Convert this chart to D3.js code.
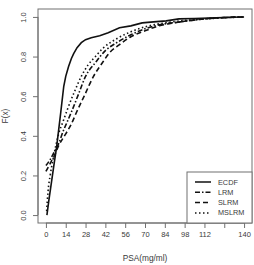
<!DOCTYPE html>
<html>
<head>
<meta charset="utf-8">
<script src="https://cdn.jsdelivr.net/npm/d3@7"></script>
<style>
  body { margin: 0; background: #fff; }
  svg { display: block; font-family: 'Liberation Sans', Arial, sans-serif; }
</style>
</head>
<body>
<svg width="254" height="265"></svg>
<script>
// PSA values (x) and fitted / empirical CDF values (F(x))
const ecdfX = [0.7, 2, 4, 6, 7.5, 9, 10.5, 12.6, 14, 16, 18, 19.6, 22, 25, 28, 32, 38, 44, 52, 60, 68, 76, 85, 94, 105, 120, 138]
const ecdfY = [0, 0.07, 0.17, 0.27, 0.34, 0.43, 0.52, 0.65, 0.7, 0.75, 0.79, 0.815, 0.845, 0.87, 0.885, 0.895, 0.905, 0.92, 0.945, 0.955, 0.97, 0.975, 0.98, 0.99, 0.992, 0.996, 1.0]

const lrmX = [0, 3, 6, 9, 12, 15, 18, 23, 28, 35, 42, 50, 60, 70, 80, 95, 112, 140]
const lrmY = [0.25, 0.28, 0.32, 0.36, 0.42, 0.47, 0.52, 0.61, 0.7, 0.77, 0.83, 0.87, 0.91, 0.94, 0.96, 0.975, 0.99, 1.0]

const slrmX = [0, 3, 6, 9, 14, 18, 21.7, 27, 33.6, 40, 45, 52, 60, 70, 80, 95, 112, 140]
const slrmY = [0.22, 0.26, 0.3, 0.35, 0.41, 0.46, 0.52, 0.6, 0.7, 0.77, 0.82, 0.86, 0.9, 0.93, 0.955, 0.975, 0.99, 1.0]

const mslrmX = [0.5, 1.5, 3, 5, 7, 9, 12, 15, 20, 25, 30, 35, 40, 50, 60, 70, 80, 95, 112, 140]
const mslrmY = [0.02, 0.12, 0.2, 0.28, 0.35, 0.41, 0.47, 0.53, 0.62, 0.7, 0.76, 0.8, 0.84, 0.89, 0.925, 0.95, 0.965, 0.98, 0.99, 1.0]

const xTicks = [0, 14, 28, 42, 56, 70, 84, 98, 112, 126, 140]
const xTickLabels = ['0', '14', '28', '42', '56', '70', '84', '98', '112', '', '140']
const yTicks = [0, 0.2, 0.4, 0.6, 0.8, 1.0]

const seriesNames = ['ECDF', 'LRM', 'SLRM', 'MSLRM']

let svg = d3.select('svg')
let box = {left: 38, right: 252, top: 9, bottom: 223}

// R-style 4% padding around the data range
let x = d3.scaleLinear().domain([-5.6, 145.6]).range([box.left, box.right])
let y = d3.scaleLinear().domain([-0.04, 1.04]).range([box.bottom, box.top])

let textColor = '#3a3a3a'
let axisColor = '#707070'

// dash patterns like R's lty
let styles = {
  ECDF: {dash: null, curve: d3.curveLinear},
  LRM: {dash: '5,2,1.5,2', curve: d3.curveMonotoneX},
  SLRM: {dash: '5,3', curve: d3.curveMonotoneX},
  MSLRM: {dash: '1.5,2.5', curve: d3.curveMonotoneX}
}

let series = [
  {name: 'ECDF', xs: ecdfX, ys: ecdfY},
  {name: 'LRM', xs: lrmX, ys: lrmY},
  {name: 'SLRM', xs: slrmX, ys: slrmY},
  {name: 'MSLRM', xs: mslrmX, ys: mslrmY}
]

// curves
series.forEach(function (s) {
  let pts = s.xs.map((v, i) => [v, s.ys[i]])
  let line = d3.line()
    .curve(styles[s.name].curve)
    .x((d) => x(d[0]))
    .y((d) => y(d[1]))
  svg.append('path').datum(pts)
    .attr('d', line)
    .attr('fill', 'none')
    .attr('stroke', '#111')
    .attr('stroke-width', 1.6)
    .attr('stroke-dasharray', styles[s.name].dash)
})

// plot box
svg.append('rect')
  .attr('x', box.left)
  .attr('y', box.top)
  .attr('width', box.right - box.left)
  .attr('height', box.bottom - box.top)
  .attr('fill', 'none')
  .attr('stroke', axisColor)
  .attr('stroke-width', 1)

// x axis
let xAxis = d3.axisBottom(x)
  .tickValues(xTicks)
  .tickSize(5)
  .tickPadding(4)
  .tickFormat((d, i) => xTickLabels[i])
let gx = svg.append('g')
  .attr('transform', 'translate(0,' + box.bottom + ')')
  .call(xAxis)
gx.select('.domain')
  .attr('d', 'M' + x(0) + ',0H' + x(140))
  .attr('stroke', axisColor)
gx.selectAll('.tick line').attr('stroke', axisColor)
gx.selectAll('.tick text')
  .attr('fill', textColor)
  .attr('font-size', 7.5)
  .attr('font-family', 'Liberation Sans, Arial, sans-serif')

// y axis with vertical labels
let yAxis = d3.axisLeft(y)
  .tickValues(yTicks)
  .tickSize(5)
  .tickFormat(d3.format('.1f'))
let gy = svg.append('g')
  .attr('transform', 'translate(' + box.left + ',0)')
  .call(yAxis)
gy.select('.domain')
  .attr('d', 'M0,' + y(0) + 'V' + y(1))
  .attr('stroke', axisColor)
gy.selectAll('.tick line').attr('stroke', axisColor)
gy.selectAll('.tick text')
  .attr('fill', textColor)
  .attr('font-size', 7.5)
  .attr('font-family', 'Liberation Sans, Arial, sans-serif')
  .attr('x', null)
  .attr('dy', null)
  .attr('text-anchor', 'middle')
  .attr('transform', 'translate(-12,0) rotate(-90)')

// axis titles
svg.append('text')
  .attr('x', (box.left + box.right) / 2)
  .attr('y', 261)
  .attr('text-anchor', 'middle')
  .attr('font-size', 8.3)
  .attr('fill', textColor)
  .text('PSA(mg/ml)')

svg.append('text')
  .attr('transform', 'translate(8,' + ((box.top + box.bottom) / 2) + ') rotate(-90)')
  .attr('text-anchor', 'middle')
  .attr('font-size', 8.3)
  .attr('fill', textColor)
  .text('F(x)')

// legend
let legend = svg.append('g')
legend.append('rect')
  .attr('x', 187)
  .attr('y', 172)
  .attr('width', box.right - 187)
  .attr('height', box.bottom - 172)
  .attr('fill', '#fff')
  .attr('stroke', axisColor)

seriesNames.forEach(function (name, i) {
  let ly = 182 + i * 10.3
  legend.append('line')
    .attr('x1', 195)
    .attr('x2', 211)
    .attr('y1', ly)
    .attr('y2', ly)
    .attr('stroke', '#111')
    .attr('stroke-width', 1.5)
    .attr('stroke-dasharray', styles[name].dash)
  legend.append('text')
    .attr('x', 218)
    .attr('y', ly)
    .attr('dy', '0.35em')
    .attr('font-size', 7.3)
    .attr('fill', textColor)
    .text(name)
})
</script>
</body>
</html>
